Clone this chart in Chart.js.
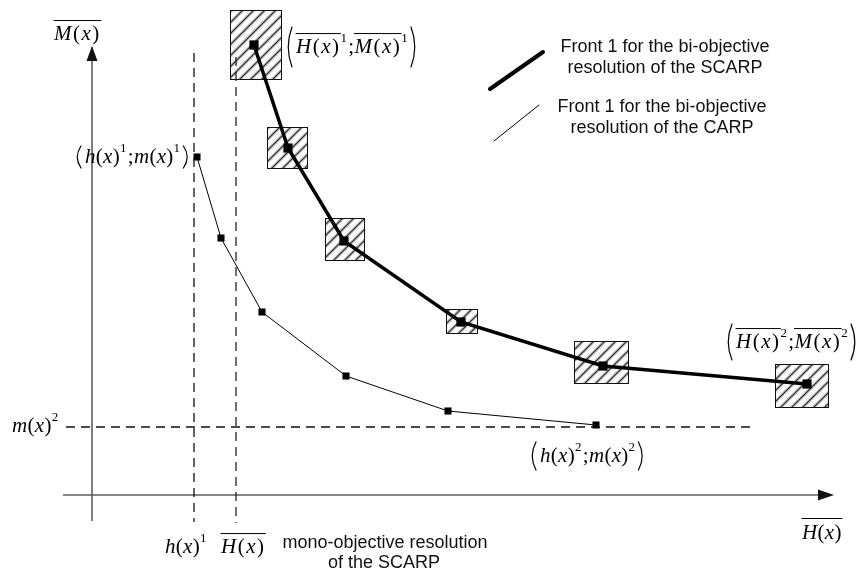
<!DOCTYPE html>
<html>
<head>
<meta charset="utf-8">
<script src="https://cdn.jsdelivr.net/npm/chart.js@4"></script>
<style>
  body { margin: 0; background: #fff; }
  canvas { display: block; }
</style>
</head>
<body>
<canvas id="chart1" width="856" height="571"></canvas>
<script>
// front of the bi-objective SCARP (H, M)
const scarpH = [16.2, 19.6, 25.2, 36.9, 51.1, 71.5];
const scarpM = [45.0, 34.7, 25.4, 17.3, 12.9, 11.1];
// uncertainty boxes around each SCARP point
const boxH0 = [13.8, 17.5, 23.3, 35.4, 48.2, 68.3];
const boxH1 = [18.9, 21.5, 27.2, 38.5, 53.6, 73.6];
const boxM0 = [41.6, 32.7, 23.5, 16.2, 11.2, 8.8];
const boxM1 = [48.5, 36.8, 27.7, 18.6, 15.4, 13.1];
// front of the bi-objective CARP (h, m)
const carpH = [10.5, 12.9, 17.0, 25.4, 35.6, 50.4];
const carpM = [33.8, 25.7, 18.3, 11.9, 8.4, 7.0];
// mono-objective reference values
const refH = [10.2, 14.4];   // h(x)^1 , H(x)
const refM = [6.8];          // m(x)^2

function pts(xs, ys) { return xs.map((x, i) => ({ x: x, y: ys[i] })); }

function hatchPattern(ctx) {
    const c = document.createElement('canvas');
    c.width = 11; c.height = 11;
    const g = c.getContext('2d');
    g.fillStyle = '#fff';
    g.fillRect(0, 0, 11, 11);
    [['#c8c8c8', 3.5], ['#2a2a2a', 1.2]].forEach(([col, w]) => {
        g.strokeStyle = col; g.lineWidth = w;
        g.beginPath();
        g.moveTo(-2, 13); g.lineTo(13, -2);
        g.moveTo(-13, 13); g.lineTo(2, -2);
        g.moveTo(9, 13); g.lineTo(24, -2);
        g.stroke();
    });
    return ctx.createPattern(c, 'repeat');
}

// draws a math run: letters italic, overline groups ('o'), superscripts ('s')
function mathRun(ctx, x, cy, parts, size) {
    let cx = x;
    parts.forEach(([t, f]) => {
        const sup = f.includes('s');
        const fs = sup ? size * 0.62 : size;
        const y = sup ? cy - size * 0.4 : cy;
        const start = cx;
        for (const ch of t) {
            const it = /[A-Za-z]/.test(ch);
            ctx.font = (it ? 'italic ' : '') + fs + 'px "Liberation Serif"';
            ctx.fillText(ch, cx, y);
            cx += ctx.measureText(ch).width + (f.includes('w') ? 1.5 : 0.3);
        }
        if (f.includes('o')) {
            ctx.lineWidth = 1;
            ctx.beginPath();
            ctx.moveTo(start, cy - size * 0.64);
            ctx.lineTo(cx, cy - size * 0.64);
            ctx.stroke();
        }
        if (f.includes('s')) cx += 1;
    });
    return cx - x;
}

function paren(ctx, x, cy, h, dir) {
    ctx.lineWidth = 1.2;
    ctx.beginPath();
    const a = dir > 0 ? x + 6 : x;
    const b = dir > 0 ? x : x + 6;
    ctx.moveTo(a, cy - h / 2);
    ctx.quadraticCurveTo(b - 1.5 * dir, cy, a, cy + h / 2);
    ctx.stroke();
}

function label(ctx, x, cy, parts, size, ph) {
    if (!ph) { mathRun(ctx, x, cy, parts, size); return; }
    paren(ctx, x, cy, ph, 1);
    const w = mathRun(ctx, x + 10, cy, parts, size);
    paren(ctx, x + 12 + w, cy, ph, -1);
}

const boxPlugin = {
    id: 'boxes',
    beforeDatasetsDraw(chart) {
        const ctx = chart.ctx, xs = chart.scales.x, ys = chart.scales.y;
        const pat = hatchPattern(ctx);
        ctx.save();
        boxH0.forEach((h0, i) => {
            const x0 = xs.getPixelForValue(h0), x1 = xs.getPixelForValue(boxH1[i]);
            const y0 = ys.getPixelForValue(boxM1[i]), y1 = ys.getPixelForValue(boxM0[i]);
            ctx.fillStyle = pat;
            ctx.fillRect(x0, y0, x1 - x0, y1 - y0);
            ctx.strokeStyle = '#111';
            ctx.lineWidth = 1;
            ctx.strokeRect(x0 + 0.5, y0 + 0.5, x1 - x0, y1 - y0);
        });
        ctx.restore();
    }
};

const annotPlugin = {
    id: 'annot',
    afterDatasetsDraw(chart) {
        const ctx = chart.ctx;
        ctx.save();
        ctx.fillStyle = '#000';
        ctx.strokeStyle = '#000';
        // arrow heads of the axes
        ctx.fillStyle = '#111';
        ctx.beginPath();
        ctx.moveTo(92, 46); ctx.lineTo(86.5, 61); ctx.lineTo(97.5, 61); ctx.closePath(); ctx.fill();
        ctx.beginPath();
        ctx.moveTo(834, 495); ctx.lineTo(818, 489.5); ctx.lineTo(818, 500.5); ctx.closePath(); ctx.fill();

        // legend
        ctx.lineCap = 'round';
        ctx.lineWidth = 4;
        ctx.beginPath(); ctx.moveTo(490, 89); ctx.lineTo(543, 52); ctx.stroke();
        ctx.lineWidth = 1;
        ctx.beginPath(); ctx.moveTo(494, 141); ctx.lineTo(539, 105); ctx.stroke();
        ctx.font = '18px "Liberation Sans"';
        ctx.textAlign = 'center';
        ctx.textBaseline = 'middle';
        ctx.fillStyle = '#111';
        ctx.fillText('Front 1 for the bi-objective', 665, 47);
        ctx.fillText('resolution of the SCARP', 665, 68);
        ctx.fillText('Front 1 for the bi-objective', 662, 107);
        ctx.fillText('resolution of the CARP', 662, 128);
        ctx.fillText('mono-objective resolution', 385, 543);
        ctx.fillText('of the SCARP', 384, 563);

        // math labels
        ctx.textAlign = 'left';
        ctx.fillStyle = '#000';
        label(ctx, 54, 34, [['M(x)', 'ow']], 21);
        label(ctx, 286, 47, [['H(x)', 'ow'], ['1', 's'], [';', ''], ['M(x)', 'ow'], ['1', 's']], 21, 40);
        label(ctx, 75, 157, [['h(x)', ''], ['1', 's'], [';', ''], ['m(x)', ''], ['1', 's']], 21, 22);
        label(ctx, 12, 426, [['m(x)', ''], ['2', 's']], 21);
        label(ctx, 530, 456, [['h(x)', ''], ['2', 's'], [';', ''], ['m(x)', ''], ['2', 's']], 21, 28);
        label(ctx, 726, 342, [['H(x)', 'ow'], ['2', 's'], [';', ''], ['M(x)', 'ow'], ['2', 's']], 21, 36);
        label(ctx, 165, 547, [['h(x)', ''], ['1', 's']], 21);
        label(ctx, 221, 547, [['H(x)', 'ow']], 21);
        label(ctx, 802, 533, [['H(x)', '']], 21);
        ctx.lineWidth = 1;
        ctx.beginPath(); ctx.moveTo(802, 518.5); ctx.lineTo(842, 518.5); ctx.stroke();
        ctx.restore();
    }
};

function guide(data, dash, color, width) {
    return {
        data: data, showLine: true, pointRadius: 0, borderColor: color,
        borderWidth: width, borderDash: dash, clip: false
    };
}

function createChart1() {
    const ctx = document.getElementById('chart1');
    new Chart(ctx, {
        type: 'scatter',
        data: {
            datasets: [
                guide([{ x: 0, y: 44.8 }, { x: 0, y: -2.6 }], [], '#555', 1.5),
                guide([{ x: -2.9, y: 0 }, { x: 73, y: 0 }], [], '#111', 1.2),
                guide([{ x: refH[0], y: 44.2 }, { x: refH[0], y: -2.7 }], [9, 6], '#111', 1.3),
                guide([{ x: refH[1], y: 43.8 }, { x: refH[1], y: -2.8 }], [9, 6], '#222', 1.3),
                guide([{ x: -2.6, y: refM[0] }, { x: 66.3, y: refM[0] }], [9, 6], '#111', 1.3),
                {
                    label: 'Front 1 for the bi-objective resolution of the CARP',
                    data: pts(carpH, carpM),
                    showLine: true,
                    borderColor: '#000',
                    backgroundColor: '#000',
                    borderWidth: 1,
                    pointStyle: 'rect',
                    pointRadius: 5,
                    pointBorderWidth: 0,
                    clip: false
                },
                {
                    label: 'Front 1 for the bi-objective resolution of the SCARP',
                    data: pts(scarpH, scarpM),
                    showLine: true,
                    borderColor: '#000',
                    backgroundColor: '#000',
                    borderWidth: 3.5,
                    pointStyle: 'rect',
                    pointRadius: 6.5,
                    pointBorderWidth: 0,
                    clip: false
                }
            ]
        },
        options: {
            responsive: false,
            animation: false,
            layout: { padding: 0, autoPadding: false },
            plugins: { legend: { display: false }, tooltip: { enabled: false } },
            scales: {
                x: { type: 'linear', display: false, min: -9.2, max: 76.4 },
                y: { type: 'linear', display: false, min: -7.6, max: 49.5 }
            }
        },
        plugins: [boxPlugin, annotPlugin]
    });
}

createChart1();
</script>
</body>
</html>
